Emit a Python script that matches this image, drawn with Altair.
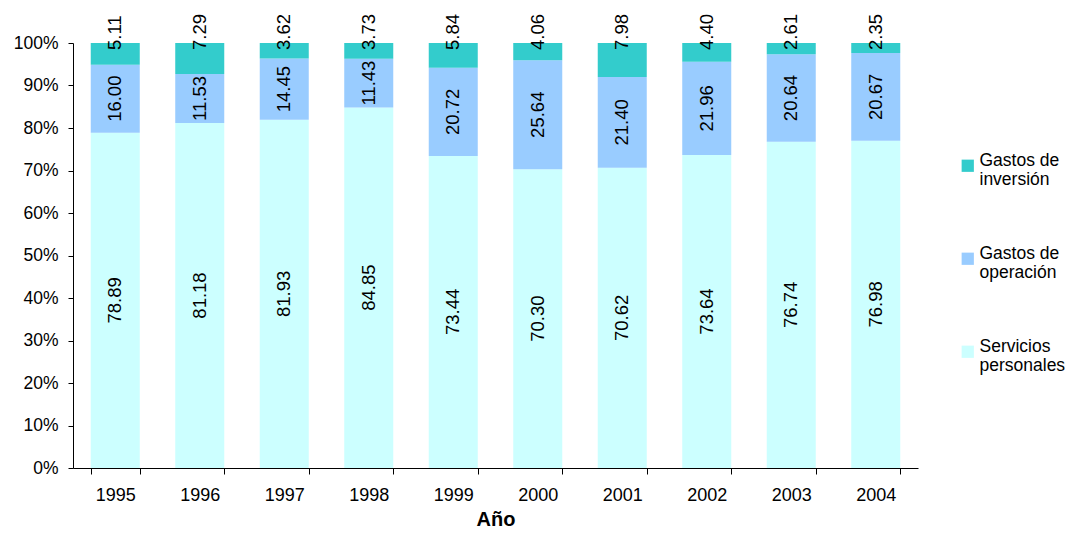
import altair as alt
import pandas as pd

years = ["1995", "1996", "1997", "1998", "1999", "2000", "2001", "2002", "2003", "2004"]
servicios = [78.89, 81.18, 81.93, 84.85, 73.44, 70.30, 70.62, 73.64, 76.74, 76.98]
operacion = [16.00, 11.53, 14.45, 11.43, 20.72, 25.64, 21.40, 21.96, 20.64, 20.67]
inversion = [5.11, 7.29, 3.62, 3.73, 5.84, 4.06, 7.98, 4.40, 2.61, 2.35]

series_names = ["Servicios personales", "Gastos de operación", "Gastos de inversión"]
legend_order = ["Gastos de inversión", "Gastos de operación", "Servicios personales"]
colors = ["#33CCCC", "#99CCFF", "#CCFFFF"]
y_ticks = [0, 10, 20, 30, 40, 50, 60, 70, 80, 90, 100]

rows = []
for i, y in enumerate(years):
    for k, (name, vals) in enumerate(zip(series_names, [servicios, operacion, inversion])):
        rows.append({"year": y, "serie": name, "value": vals[i], "ord": k})
df = pd.DataFrame(rows)

FONT = "Liberation Sans"

x_enc = alt.X("year:N", sort=years, title="Año",
              scale=alt.Scale(paddingInner=0.42, paddingOuter=0.21),
              axis=alt.Axis(labelAngle=0, tickBand="extent", tickSize=6, labelFontSize=18,
                            labelPadding=12, titleFontSize=20, titleFontWeight="bold",
                            titlePadding=5, domainColor="#000000", tickColor="#000000",
                            labelColor="#000000", titleColor="#000000"))

legend_expr = ("indexof(datum.label, ' de ') >= 0 ? "
               "[slice(datum.label, 0, indexof(datum.label, ' de ') + 3), "
               "slice(datum.label, indexof(datum.label, ' de ') + 4)] : "
               "split(datum.label, ' ')")

bars = alt.Chart(df).mark_bar().encode(
    x=x_enc,
    y=alt.Y("value:Q", stack="zero", title=None,
            scale=alt.Scale(domain=[0, 100], nice=False),
            axis=alt.Axis(values=y_ticks, labelExpr="datum.value + '%'", grid=False,
                          tickSize=5, labelFontSize=17.5, labelPadding=10,
                          domainColor="#000000", tickColor="#000000", labelColor="#000000")),
    color=alt.Color("serie:N",
                    scale=alt.Scale(domain=legend_order, range=colors),
                    legend=alt.Legend(title=None, orient="none", legendX=886, legendY=114,
                                      symbolType="square", symbolSize=150, symbolStrokeWidth=0,
                                      labelFontSize=17.5, labelColor="#000000", labelOffset=3,
                                      labelBaseline="alphabetic", rowPadding=55, labelLimit=200,
                                      labelExpr=legend_expr)),
    order=alt.Order("ord:Q", sort="ascending"),
)

stacked = alt.Chart(df).transform_stack(
    stack="value", groupby=["year"], sort=[alt.SortField("ord", order="ascending")], as_=["v0", "v1"]
).transform_calculate(mid="(datum.v0 + datum.v1) / 2")

labels_mid = stacked.transform_filter("datum.ord < 2").mark_text(
    angle=270, fontSize=18.5, color="#000000", align="center", baseline="middle"
).encode(
    x=alt.X("year:N", sort=years),
    y=alt.Y("mid:Q"),
    text=alt.Text("value:Q", format=".2f"),
)

labels_top = stacked.transform_filter("datum.ord == 2").mark_text(
    angle=270, fontSize=18.5, color="#000000", align="left", baseline="middle", dx=-7
).encode(
    x=alt.X("year:N", sort=years),
    y=alt.Y("v1:Q"),
    text=alt.Text("value:Q", format=".2f"),
)

chart = alt.layer(bars, labels_mid, labels_top).properties(
    width=845, height=425,
    autosize=alt.AutoSizeParams(type="none"),
    padding={"left": 65, "top": 35, "right": 148, "bottom": 64},
).configure(font=FONT).configure_view(stroke=None)

chart.save("out.html", embed_options={"renderer": "svg", "actions": False})
